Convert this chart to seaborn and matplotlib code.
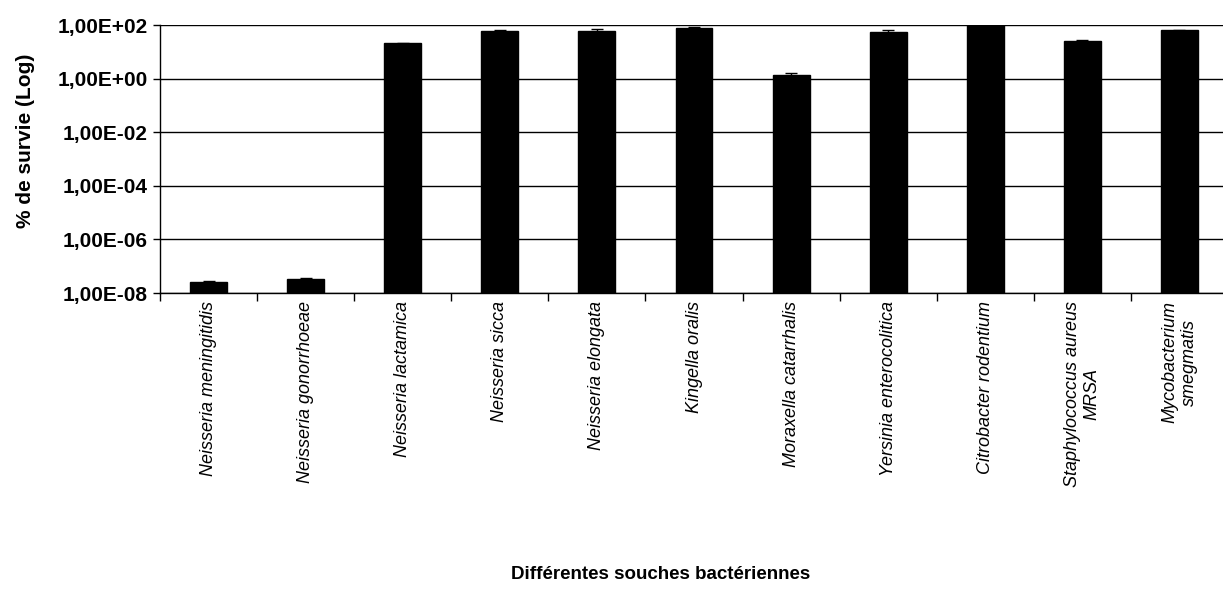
import numpy as np
import pandas as pd
import matplotlib
matplotlib.use("Agg")
import matplotlib.pyplot as plt
from matplotlib.ticker import FixedLocator, FuncFormatter, NullLocator
import seaborn as sns

strains = [
    "Neisseria meningitidis",
    "Neisseria gonorrhoeae",
    "Neisseria lactamica",
    "Neisseria sicca",
    "Neisseria elongata",
    "Kingella oralis",
    "Moraxella catarrhalis",
    "Yersinia enterocolitica",
    "Citrobacter rodentium",
    "Staphylococcus aureus\nMRSA",
    "Mycobacterium\nsmegmatis",
]
survival = [2.6e-8, 3.2e-8, 21.0, 60.0, 60.0, 77.0, 1.4, 56.0, 98.0, 24.5, 63.0]
errors = [0.3e-8, 0.3e-8, 1.0, 4.0, 10.0, 6.0, 0.15, 7.0, 2.0, 4.0, 2.0]
ytick_values = [1e-8, 1e-6, 1e-4, 1e-2, 1e0, 1e2]

df = pd.DataFrame({"souche": strains, "survie": survival})

sns.set_theme(style="white", rc={"text.color": "black", "axes.labelcolor": "black",
                                 "xtick.color": "black", "ytick.color": "black"})
plt.rcParams["font.family"] = ["Liberation Sans", "DejaVu Sans"]

fig = plt.figure(figsize=(12.23, 5.99), dpi=100)
W, H = 1223, 599
left, right, top, bottom = 160, 1228, 25, 293
ax = fig.add_axes([left / W, 1 - bottom / H, (right - left) / W, (bottom - top) / H])

ax.set_yscale("log")
sns.barplot(data=df, x="souche", y="survie", color="black", width=0.38,
            errorbar=None, ax=ax, saturation=1)
for p in ax.patches:
    p.set_edgecolor("black")

centers = [p.get_x() + p.get_width() / 2 for p in ax.patches]
ax.errorbar(centers, survival, yerr=errors, fmt="none", ecolor="black",
            elinewidth=1, capsize=4, capthick=1, zorder=5)

ax.set_ylim(1e-8, 1e2)
ax.set_xlim(-0.5, len(strains) - 0.5)
ax.yaxis.set_major_locator(FixedLocator(ytick_values))
ax.yaxis.set_minor_locator(NullLocator())

def fmt(v, pos):
    e = int(round(np.log10(v)))
    sign = "+" if e >= 0 else "-"
    return f"1,00E{sign}{abs(e):02d}"

ax.yaxis.set_major_formatter(FuncFormatter(fmt))
ax.grid(axis="y", color="black", linewidth=1)
ax.set_axisbelow(True)

for s in ["top", "right"]:
    ax.spines[s].set_visible(False)
for s in ["left", "bottom"]:
    ax.spines[s].set_color("black")
    ax.spines[s].set_linewidth(1)

ax.set_xticks(range(len(strains)))
ax.set_xticklabels(strains, rotation=90, fontsize=13, fontstyle="italic",
                   ha="center", va="top", multialignment="center", color="black")
ax.set_xticks(np.arange(-0.5, len(strains), 1), minor=True)
ax.tick_params(axis="x", which="major", length=0, pad=6)
ax.tick_params(axis="x", which="minor", length=6, width=1, color="black", direction="out", bottom=True)
ax.tick_params(axis="y", which="major", length=5, width=1, color="black", direction="out",
               left=True, labelsize=15, pad=4)
for t in ax.get_yticklabels():
    t.set_fontweight("bold")
    t.set_color("black")

ax.set_ylabel("% de survie (Log)", fontsize=15, fontweight="bold", color="black")
ax.yaxis.set_label_coords(-0.1175, 0.567)
ax.set_xlabel("Différentes souches bactériennes", fontsize=13.5, fontweight="bold", color="black")
ax.xaxis.set_label_coords(0.469, -1.02)

fig.savefig("out.png", dpi=100)
